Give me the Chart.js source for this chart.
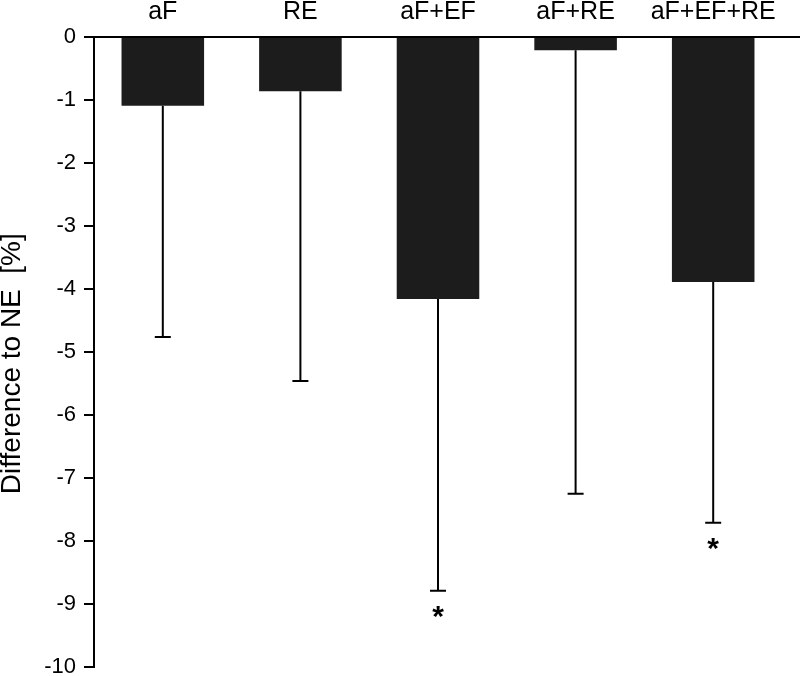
<!DOCTYPE html>
<html>
<head>
<meta charset="utf-8">
<script src="https://cdn.jsdelivr.net/npm/chart.js@4"></script>
<style>
  html, body { margin: 0; padding: 0; background: #fff; }
  #wrap { width: 800px; height: 676px; }
</style>
</head>
<body>
<div id="wrap"><canvas id="diffChart"></canvas></div>
<script>
// Groups and their mean difference to NE (%)
const groups = ['aF', 'RE', 'aF+EF', 'aF+RE', 'aF+EF+RE'];
const meanDiff = [-1.09, -0.86, -4.16, -0.21, -3.89];
// Lower end of the error bar (mean - SD)
const errLow = [-4.76, -5.46, -8.79, -7.25, -7.71];
// Groups marked with an asterisk
const significant = [false, false, true, false, true];
const yTicks = [0, -1, -2, -3, -4, -5, -6, -7, -8, -9, -10];

const FONT = "'Liberation Sans', Arial, Helvetica, sans-serif";

// Draws the error bars, asterisks and the zero line running to the edge.
const extrasPlugin = {
  id: 'extras',
  afterDatasetsDraw(chart) {
    const ctx = chart.ctx;
    const xs = chart.scales.x;
    const ys = chart.scales.y;
    ctx.save();
    ctx.strokeStyle = '#000';
    ctx.lineWidth = 2;
    groups.forEach((g, i) => {
      const x = xs.getPixelForValue(i);
      const yTop = ys.getPixelForValue(meanDiff[i]);
      const yBot = ys.getPixelForValue(errLow[i]);
      ctx.beginPath();
      ctx.moveTo(x, yTop);
      ctx.lineTo(x, yBot);
      ctx.moveTo(x - 8, yBot);
      ctx.lineTo(x + 8, yBot);
      ctx.stroke();
      if (significant[i]) {
        ctx.fillStyle = '#000';
        ctx.font = 'bold 30px ' + FONT;
        ctx.textAlign = 'center';
        ctx.textBaseline = 'middle';
        ctx.fillText('*', x, yBot + 27);
      }
    });
    // zero line continues past the last group
    const y0 = ys.getPixelForValue(0);
    ctx.beginPath();
    ctx.moveTo(chart.chartArea.right, y0);
    ctx.lineTo(chart.width, y0);
    ctx.stroke();
    ctx.restore();
  }
};

const ctx = document.getElementById('diffChart').getContext('2d');
const diffChart = new Chart(ctx, {
  type: 'bar',
  data: {
    labels: groups,
    datasets: [{
      data: meanDiff,
      backgroundColor: '#1c1c1c',
      borderWidth: 0,
      barPercentage: 0.6,
      categoryPercentage: 1
    }]
  },
  options: {
    responsive: true,
    maintainAspectRatio: false,
    animation: false,
    layout: { padding: { right: 18, bottom: 9 } },
    plugins: {
      legend: { display: false },
      tooltip: { enabled: false }
    },
    scales: {
      x: {
        position: 'top',
        grid: { display: false, drawTicks: false },
        border: { display: true, color: '#000', width: 2 },
        ticks: {
          color: '#000',
          font: { family: FONT, size: 25 },
          padding: 10,
          maxRotation: 0,
          autoSkip: false
        },
        afterFit: (scale) => { scale.height = 37; }
      },
      y: {
        min: -10,
        max: 0,
        afterBuildTicks: (scale) => { scale.ticks = yTicks.map(v => ({ value: v })); },
        grid: {
          drawOnChartArea: false,
          drawTicks: true,
          tickLength: 10,
          color: '#000',
          lineWidth: 2
        },
        border: { display: true, color: '#000', width: 2 },
        ticks: {
          color: '#000',
          font: { family: FONT, size: 22 },
          padding: 8
        },
        title: {
          display: true,
          text: 'Difference to NE  [%]   ',
          color: '#000',
          font: { family: FONT, size: 28 },
          padding: { top: -5, bottom: 0 }
        },
        afterFit: (scale) => {
          scale.width = 94;
          scale.paddingBottom = 0;
        }
      }
    }
  },
  plugins: [extrasPlugin]
});
</script>
</body>
</html>
